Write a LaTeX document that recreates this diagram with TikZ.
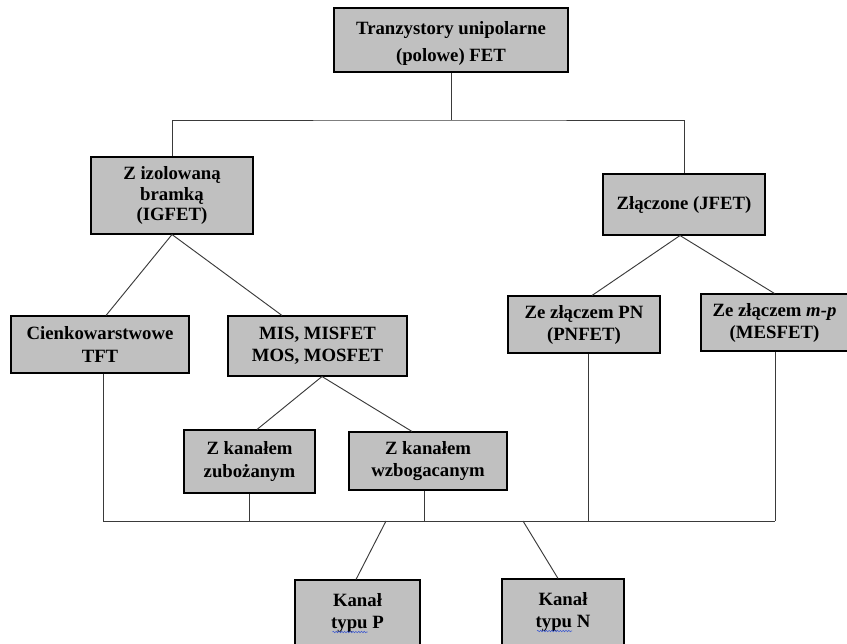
\documentclass[tikz,border=0pt]{standalone}
\usepackage{fontspec}
\setmainfont{Liberation Serif}
\usepackage{tikz}
\usetikzlibrary{positioning, calc, decorations.pathmorphing}
\definecolor{boxgray}{HTML}{C0C0C0}
\definecolor{linegray}{HTML}{3A3A3A}
\definecolor{spellblue}{HTML}{3F5BD0}

\begin{document}
\begin{tikzpicture}[
    x=0.03cm, y=-0.03cm,
    box/.style={rectangle, draw=black, fill=boxgray, line width=0.9pt, inner sep=0pt, align=center, font=\bfseries\fontsize{16}{18.8}\selectfont},
    conn/.style={draw=linegray, line width=0.8pt},
    spell/.style={draw=spellblue, line width=0.5pt, decorate, decoration={snake, amplitude=0.6pt, segment length=2.4pt}}
]
\useasboundingbox (0,0) rectangle (847,643);

\node[box, minimum width=7.02cm, minimum height=1.92cm, font=\bfseries\fontsize{16}{23}\selectfont] (fet) at (451,40) {\rule{0pt}{0.62cm}Tranzystory unipolarne\\(polowe) FET};

\node[box, minimum width=4.86cm, minimum height=2.31cm, font=\bfseries\fontsize{16}{17.5}\selectfont] (igfet) at (172,195.5) {Z izolowaną\\bramką\\(IGFET)};
\node[box, minimum width=4.86cm, minimum height=1.83cm] (jfet) at (684,204.5) {Złączone (JFET)};

\node[box, minimum width=5.34cm, minimum height=1.71cm] (tft) at (100,344.5) {Cienkowarstwowe\\TFT};
\node[box, minimum width=5.37cm, minimum height=1.8cm] (mis) at (317.5,346) {MIS, MISFET\\MOS, MOSFET};
\node[box, minimum width=4.56cm, minimum height=1.71cm] (pnfet) at (584,324.5) {Ze złączem PN\\(PNFET)};
\node[box, minimum width=4.41cm, minimum height=1.71cm] (mesfet) at (774.5,322.5) {Ze złączem \textit{m-p}\\(MESFET)};

\node[box, minimum width=3.93cm, minimum height=1.89cm] (zub) at (249.5,461.5) {Z kanałem\\zubożanym};
\node[box, minimum width=4.74cm, minimum height=1.74cm] (wzb) at (428,461) {Z kanałem\\wzbogacanym};

\node[box, minimum width=3.75cm, minimum height=1.98cm] (kanp) at (357.5,613) {Kanał\\typu P};
\node[box, minimum width=3.66cm, minimum height=1.98cm] (kann) at (563,612) {Kanał\\typu N};

\coordinate (split) at (451,120);
\coordinate (busL) at (103,521);
\coordinate (busR) at (775,521);
\coordinate (kp) at (386,521);
\coordinate (kn) at (523,521);

\draw[conn] (fet.south) -- (split);
\draw[conn] (igfet.north) |- (split) -| (jfet.north);

\draw[conn] ($(tft.north)+(6,0)$) -- (igfet.south) -- ($(mis.north)+(-35.5,0)$);
\draw[conn] ($(zub.north)+(7.5,0)$) -- ($(mis.south)+(4.5,0)$) -- ($(wzb.north)+(-16,0)$);
\draw[conn] ($(pnfet.north)+(8,0)$) -- ($(jfet.south)+(-4,0)$) -- (mesfet.north);

\draw[conn] (busL) -- (busR);
\foreach \n/\dx in {tft/3, zub/0, wzb/-4, pnfet/4, mesfet/0.5}
    \draw[conn] ($(\n.south)+(\dx,0)$) coordinate (d) -- (d |- busL);

\draw[conn] (kp) -- ($(kanp.north)+(-1.5,0)$);
\draw[conn] (kn) -- ($(kann.north)+(-5,0)$);

\draw[spell] ($(kanp.center)+(-25,19)$) -- ($(kanp.center)+(10,19)$);
\draw[spell] ($(kann.center)+(-26,19)$) -- ($(kann.center)+(9,19)$);

\end{tikzpicture}
\end{document}
